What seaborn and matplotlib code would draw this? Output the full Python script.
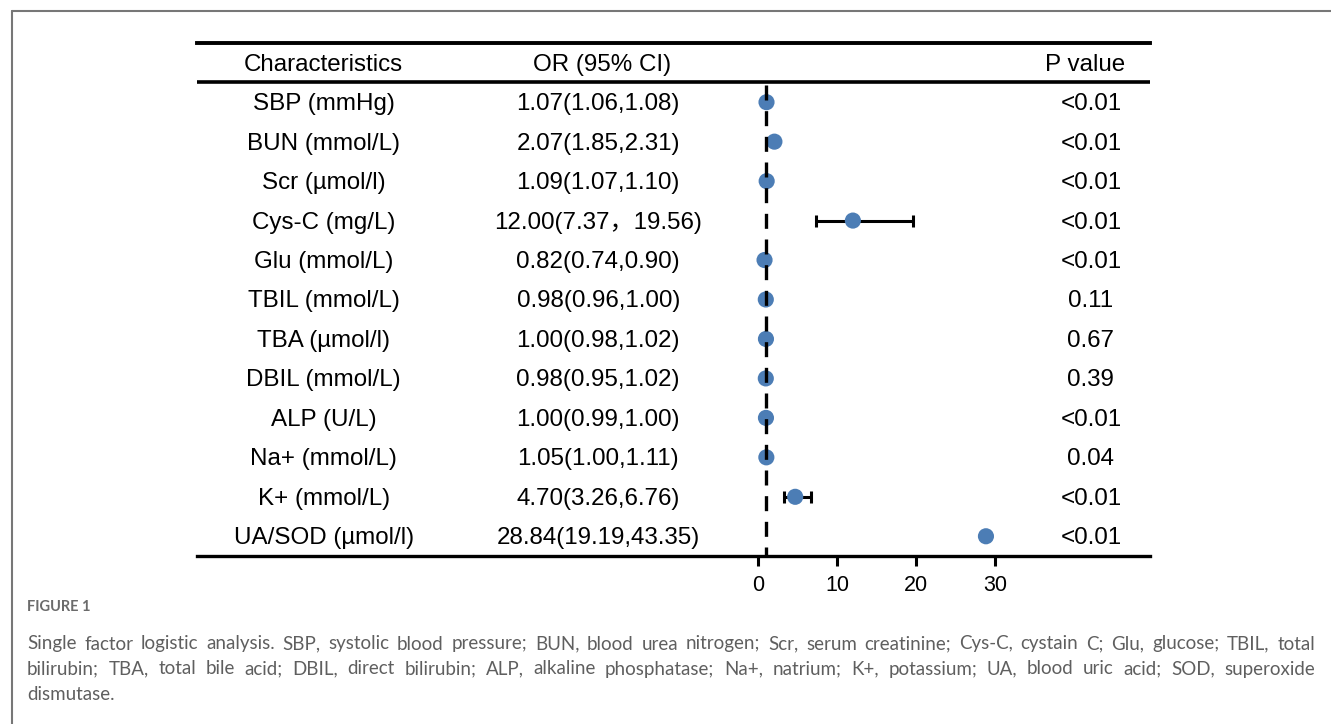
import matplotlib
matplotlib.use("Agg")
import matplotlib.pyplot as plt
from matplotlib.lines import Line2D
import seaborn as sns
import pandas as pd

characteristics = ["SBP (mmHg)", "BUN (mmol/L)", "Scr (µmol/l)", "Cys-C (mg/L)",
                   "Glu (mmol/L)", "TBIL (mmol/L)", "TBA (µmol/l)", "DBIL (mmol/L)",
                   "ALP (U/L)", "Na+ (mmol/L)", "K+ (mmol/L)", "UA/SOD (µmol/l)"]
or_values = [1.07, 2.07, 1.09, 12.00, 0.82, 0.98, 1.00, 0.98, 1.00, 1.05, 4.70, 28.84]
ci_low = [1.06, 1.85, 1.07, 7.37, 0.74, 0.96, 0.98, 0.95, 0.99, 1.00, 3.26, 19.19]
ci_high = [1.08, 2.31, 1.10, 19.56, 0.90, 1.00, 1.02, 1.02, 1.00, 1.11, 6.76, 43.35]
ci_drawn = [True, True, True, True, True, True, True, True, True, True, True, False]
or_labels = ["1.07(1.06,1.08)", "2.07(1.85,2.31)", "1.09(1.07,1.10)", "12.00(7.37，19.56)",
             "0.82(0.74,0.90)", "0.98(0.96,1.00)", "1.00(0.98,1.02)", "0.98(0.95,1.02)",
             "1.00(0.99,1.00)", "1.05(1.00,1.11)", "4.70(3.26,6.76)", "28.84(19.19,43.35)"]
p_values = ["<0.01", "<0.01", "<0.01", "<0.01", "<0.01", "0.11", "0.67", "0.39",
            "<0.01", "0.04", "<0.01", "<0.01"]
x_ticks = [0, 10, 20, 30]
reference_or = 1

sns.set_theme(style="white")
plt.rcParams['font.family'] = ['Liberation Sans', 'Noto Sans CJK SC', 'DejaVu Sans']
plt.rcParams['text.color'] = 'black'

df = pd.DataFrame({"name": characteristics, "OR": or_values, "lo": ci_low, "hi": ci_high,
                   "drawn": ci_drawn, "row": range(len(characteristics))})

W, H = 1331, 724
fig = plt.figure(figsize=(W / 100, H / 100), dpi=100)
ax = fig.add_axes([197 / W, 1 - 556 / H, (1150 - 197) / W, (556 - 43) / H])

# error bars
sub = df[df["drawn"]]
ax.errorbar(sub["OR"], sub["row"], xerr=[sub["OR"] - sub["lo"], sub["hi"] - sub["OR"]],
            fmt="none", ecolor="black", elinewidth=2.2, capsize=4, capthick=2.2, zorder=2)
sns.scatterplot(data=df, x="OR", y="row", ax=ax, s=135, color="#4C7DB5",
                edgecolor="none", linewidth=0, zorder=3, legend=False)
ax.plot([reference_or, reference_or], [-0.43, 11.5], color="black", lw=2.4,
        dashes=(4.5, 3.2), zorder=4)

ax.set_xlim(-71, 49.6)
ax.set_ylim(11.5, -1.5)
ax.set_xticks(x_ticks)
ax.set_xticklabels([str(t) for t in x_ticks])
ax.set_yticks([])
ax.set_xlabel("")
ax.set_ylabel("")
for s in ["left", "right"]:
    ax.spines[s].set_visible(False)
ax.spines["top"].set_linewidth(2.8)
ax.spines["bottom"].set_linewidth(2.4)
ax.spines["top"].set_color("black")
ax.spines["bottom"].set_color("black")
ax.tick_params(axis="x", bottom=True, length=7, width=2.2, color="black",
               labelsize=15.5, pad=7, labelcolor="black")
ax.axhline(-0.5, color="black", lw=2.6)

tr = ax.get_yaxis_transform()
fs = 17.4
dy = 0.05
ax.text(0.133, -1 + dy, "Characteristics", transform=tr, ha="center", va="center", fontsize=fs)
ax.text(0.425, -1 + dy, "OR (95% CI)", transform=tr, ha="center", va="center", fontsize=fs)
ax.text(0.932, -1 + dy, "P value", transform=tr, ha="center", va="center", fontsize=fs)
for i, (n, o, p) in enumerate(zip(characteristics, or_labels, p_values)):
    ax.text(0.133, i + dy, n, transform=tr, ha="center", va="center", fontsize=fs)
    ax.text(0.421, i + dy, o, transform=tr, ha="center", va="center", fontsize=fs)
    ax.text(0.938, i + dy, p, transform=tr, ha="center", va="center", fontsize=fs)

# frame
fig.add_artist(Line2D([12 / W, 1], [1 - 11 / H, 1 - 11 / H], color="#777777", lw=1.5))
fig.add_artist(Line2D([12 / W, 12 / W], [1 - 11 / H, 0], color="#777777", lw=1.5))

# caption
fig.text(27 / W, 1 - 607 / H, "FIGURE 1", fontsize=10.5, fontweight="bold",
         color="#6b6b6b", family=["Lato", "DejaVu Sans"], ha="left", va="center")
cap_lines = [
    "Single factor logistic analysis. SBP, systolic blood pressure; BUN, blood urea nitrogen; Scr, serum creatinine; Cys-C, cystain C; Glu, glucose; TBIL, total",
    "bilirubin; TBA, total bile acid; DBIL, direct bilirubin; ALP, alkaline phosphatase; Na+, natrium; K+, potassium; UA, blood uric acid; SOD, superoxide",
    "dismutase.",
]
cap_y = [644, 669, 695]
cap_kw = dict(fontsize=13.5, color="#5f5f5f", family=["Lato", "DejaVu Sans"], va="center", ha="left")
fig.canvas.draw()
renderer = fig.canvas.get_renderer()
x0, x1 = 27, 1315
for k, (line, yy) in enumerate(zip(cap_lines, cap_y)):
    words = line.split(" ")
    if k == len(cap_lines) - 1:
        fig.text(x0 / W, 1 - yy / H, line, **cap_kw)
        continue
    objs = [fig.text(0, 1 - yy / H, w, **cap_kw) for w in words]
    widths = [o.get_window_extent(renderer).width for o in objs]
    gap = (x1 - x0 - sum(widths)) / (len(words) - 1)
    x = x0
    for o, wd in zip(objs, widths):
        o.set_x(x / W)
        x += wd + gap

fig.savefig("out.png", dpi=100)
